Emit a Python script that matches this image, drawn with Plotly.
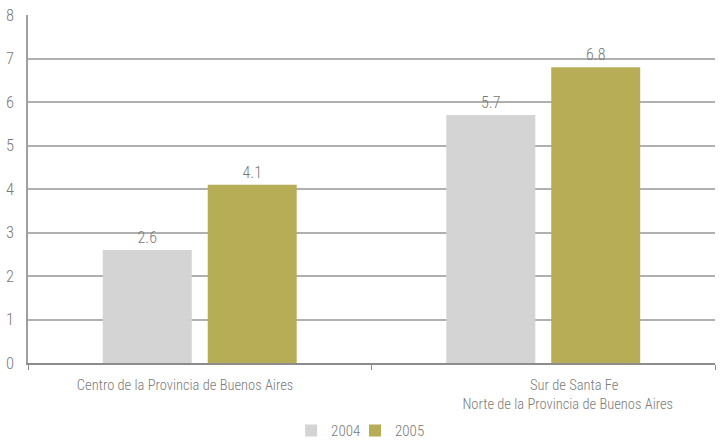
import plotly.graph_objects as go

categories = ["Centro de la Provincia de Buenos Aires",
              "Sur de Santa Fe<br>Norte de la Provincia de Buenos Aires"]
series_names = ["2004", "2005"]
values_2004 = [2.6, 5.7]
values_2005 = [4.1, 6.8]
y_ticks = [0, 1, 2, 3, 4, 5, 6, 7, 8]

FONT = "Roboto Condensed"
TXT = "#7a7a7a"
NB = "\u00a0"

# tick labels offset slightly from category centres, as in the original
_lines2 = categories[1].split("<br>")
tick_text = [categories[0] + NB * 9,
             NB * 19 + _lines2[0] + "<br>" + NB * 15 + _lines2[1]]

fig = go.Figure()
for name, vals, color, lg in [(series_names[0], values_2004, "#d4d4d4", "legend"),
                              (series_names[1], values_2005, "#b8ad57", "legend2")]:
    fig.add_trace(go.Bar(
        x=categories, y=vals, name=name, marker=dict(color=color, line=dict(width=0)),
        text=[f"{v:.1f}" for v in vals], textposition="outside",
        textfont=dict(color=TXT, size=16, family=FONT, weight=300), cliponaxis=False,
        legend=lg,
    ))

leg_common = dict(orientation="h", y=-0.195, yanchor="middle", xanchor="left",
                  font=dict(size=15, color=TXT, family=FONT, weight=300), itemwidth=30,
                  bgcolor="rgba(0,0,0,0)")

fig.update_layout(
    width=726, height=442,
    margin=dict(l=28, r=11, t=15, b=79, autoexpand=False),
    paper_bgcolor="white", plot_bgcolor="white",
    barmode="group", bargap=0.389, bargroupgap=0.152,
    font=dict(family=FONT, color=TXT, size=15, weight=300),
    showlegend=True,
    legend=dict(x=0.383, **leg_common),
    legend2=dict(x=0.476, **leg_common),
)
fig.update_xaxes(
    showline=True, linecolor="#8c8c8c", linewidth=1.5,
    ticks="outside", tickson="boundaries", ticklen=5, tickcolor="#8c8c8c",
    tickmode="array", tickvals=categories, ticktext=tick_text,
    tickfont=dict(size=14.5, color=TXT, family=FONT, weight=300), showgrid=False,
    ticklabelstandoff=8,
)
fig.update_yaxes(
    range=[0, 8], tickvals=y_ticks, showgrid=True, gridcolor="#b0b0b0", gridwidth=1.5,
    showline=True, linecolor="#a0a0a0", linewidth=1.5, zeroline=False,
    ticks="", tickfont=dict(size=16.5, color=TXT, family=FONT, weight=300), ticklabelstandoff=9,
)

fig.write_html("out.html", config={"displayModeBar": False},
               post_script="document.body.style.margin='0';")
